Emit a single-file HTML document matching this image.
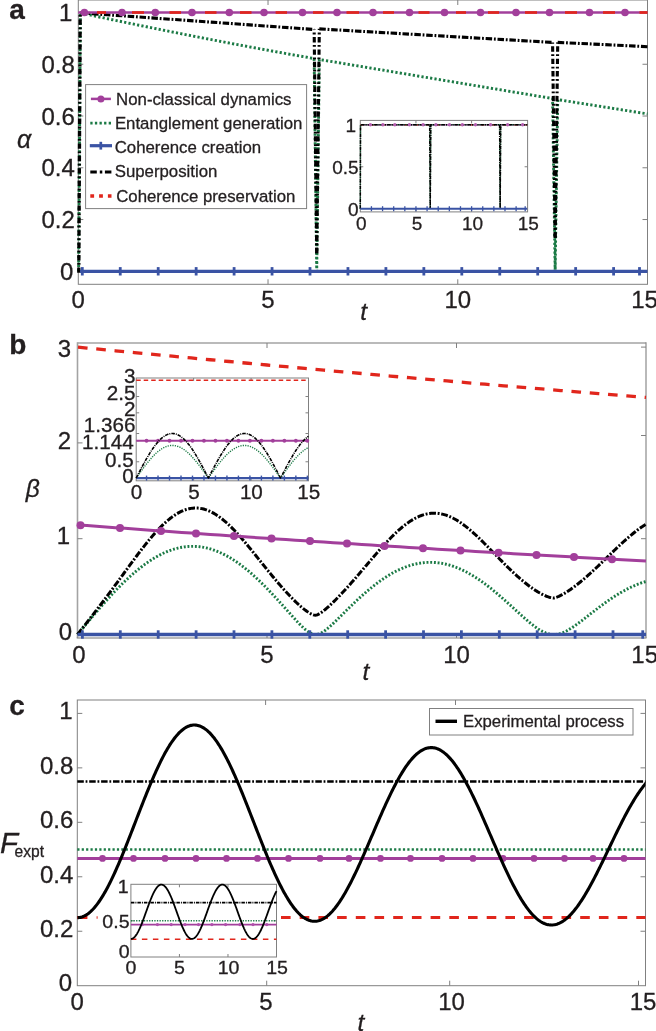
<!DOCTYPE html>
<html lang="en"><head><meta charset="utf-8"><title>Figure: alpha, beta and fidelity versus t</title>
<style>html,body{margin:0;padding:0;background:#fff}svg{display:block;will-change:transform}text{font-family:'Liberation Sans', Arial, Helvetica, sans-serif;fill:#231f20;stroke:#231f20;stroke-width:0.3px}</style></head><body>
<svg width="656" height="1031" viewBox="0 0 656 1031">
<rect x="0" y="0" width="656" height="1031" fill="#ffffff"/>
<g id="panel-a">
<rect x="78.3" y="0" width="569.2" height="284.3" fill="none" stroke="#808080" stroke-width="1"/>
<line x1="268.03" y1="284.3" x2="268.03" y2="279.3" stroke="#808080" stroke-width="1"/>
<line x1="268.03" y1="0" x2="268.03" y2="5" stroke="#808080" stroke-width="1"/>
<line x1="457.77" y1="284.3" x2="457.77" y2="279.3" stroke="#808080" stroke-width="1"/>
<line x1="457.77" y1="0" x2="457.77" y2="5" stroke="#808080" stroke-width="1"/>
<line x1="78.3" y1="219.54" x2="83.3" y2="219.54" stroke="#808080" stroke-width="1"/>
<line x1="647.5" y1="219.54" x2="642.5" y2="219.54" stroke="#808080" stroke-width="1"/>
<line x1="78.3" y1="167.78" x2="83.3" y2="167.78" stroke="#808080" stroke-width="1"/>
<line x1="647.5" y1="167.78" x2="642.5" y2="167.78" stroke="#808080" stroke-width="1"/>
<line x1="78.3" y1="116.02" x2="83.3" y2="116.02" stroke="#808080" stroke-width="1"/>
<line x1="647.5" y1="116.02" x2="642.5" y2="116.02" stroke="#808080" stroke-width="1"/>
<line x1="78.3" y1="64.26" x2="83.3" y2="64.26" stroke="#808080" stroke-width="1"/>
<line x1="647.5" y1="64.26" x2="642.5" y2="64.26" stroke="#808080" stroke-width="1"/>
<polyline points="78.6,271.3 80.4,12.5 89.68,14.93 101.07,17.35 112.45,19.74 123.84,22.11 135.22,24.46 146.6,26.79 157.99,29.09 169.37,31.38 180.76,33.64 192.14,35.89 203.52,38.11 214.91,40.31 226.29,42.48 237.68,44.64 249.06,46.77 260.44,48.89 271.83,50.98 283.21,53.05 294.6,55.1 314.15,58.57 316.73,271.3 319.31,59.48 552.57,98.55 555.15,271.3 557.73,99.62 647.5,113.89" fill="none" stroke="#1b7a45" stroke-width="2.9" stroke-dasharray="2.2 2.2" stroke-linecap="butt" stroke-linejoin="miter"/>
<polyline points="80.2,12.8 314.15,29.47" fill="none" stroke="#000000" stroke-width="3.1" stroke-dasharray="6.5 1.8 1.8 1.8" stroke-linecap="butt" stroke-linejoin="miter"/>
<polyline points="319.31,28.89 552.57,42.41" fill="none" stroke="#000000" stroke-width="3.1" stroke-dasharray="6.5 1.8 1.8 1.8" stroke-linecap="butt" stroke-linejoin="miter"/>
<polyline points="557.73,42.36 647.5,46.71" fill="none" stroke="#000000" stroke-width="3.1" stroke-dasharray="6.5 1.8 1.8 1.8" stroke-linecap="butt" stroke-linejoin="miter"/>
<polyline points="78.8,272.8 80.2,12.8" fill="none" stroke="#000000" stroke-width="3.3" stroke-dasharray="5.4 2.6 1.8 2.6" stroke-linecap="butt" stroke-linejoin="miter"/>
<polyline points="316.73,253.18 314.15,29.47" fill="none" stroke="#000000" stroke-width="3.1" stroke-dasharray="5.4 2.6 1.8 2.6" stroke-linecap="butt" stroke-linejoin="miter"/>
<polyline points="316.73,253.18 319.31,28.89" fill="none" stroke="#000000" stroke-width="3.1" stroke-dasharray="5.4 2.6 1.8 2.6" stroke-linecap="butt" stroke-linejoin="miter"/>
<polyline points="555.15,237.66 552.57,42.41" fill="none" stroke="#000000" stroke-width="3.1" stroke-dasharray="5.4 2.6 1.8 2.6" stroke-linecap="butt" stroke-linejoin="miter"/>
<polyline points="555.15,237.66 557.73,42.36" fill="none" stroke="#000000" stroke-width="3.1" stroke-dasharray="5.4 2.6 1.8 2.6" stroke-linecap="butt" stroke-linejoin="miter"/>
<line x1="78.3" y1="12.5" x2="647.5" y2="12.5" stroke="#a23f9b" stroke-width="2.7"/>
<line x1="97" y1="12.5" x2="106" y2="12.5" stroke="#e1261c" stroke-width="2.7"/>
<line x1="132" y1="12.5" x2="144" y2="12.5" stroke="#e1261c" stroke-width="2.7"/>
<line x1="169.5" y1="12.5" x2="181" y2="12.5" stroke="#e1261c" stroke-width="2.7"/>
<line x1="205" y1="12.5" x2="216.5" y2="12.5" stroke="#e1261c" stroke-width="2.7"/>
<line x1="240" y1="12.5" x2="251.5" y2="12.5" stroke="#e1261c" stroke-width="2.7"/>
<line x1="275.6" y1="12.5" x2="287" y2="12.5" stroke="#e1261c" stroke-width="2.7"/>
<line x1="313" y1="12.5" x2="323.5" y2="12.5" stroke="#e1261c" stroke-width="2.7"/>
<line x1="346.5" y1="12.5" x2="359" y2="12.5" stroke="#e1261c" stroke-width="2.7"/>
<line x1="383" y1="12.5" x2="394" y2="12.5" stroke="#e1261c" stroke-width="2.7"/>
<line x1="418.5" y1="12.5" x2="429.5" y2="12.5" stroke="#e1261c" stroke-width="2.7"/>
<line x1="456" y1="12.5" x2="466" y2="12.5" stroke="#e1261c" stroke-width="2.7"/>
<line x1="488" y1="12.5" x2="499" y2="12.5" stroke="#e1261c" stroke-width="2.7"/>
<line x1="525" y1="12.5" x2="537" y2="12.5" stroke="#e1261c" stroke-width="2.7"/>
<line x1="565" y1="12.5" x2="577" y2="12.5" stroke="#e1261c" stroke-width="2.7"/>
<line x1="603" y1="12.5" x2="615" y2="12.5" stroke="#e1261c" stroke-width="2.7"/>
<line x1="639.5" y1="12.5" x2="647.5" y2="12.5" stroke="#e1261c" stroke-width="2.7"/>
<circle cx="84.4" cy="12.5" r="3.8" fill="#a23f9b"/>
<circle cx="122" cy="12.5" r="3.8" fill="#a23f9b"/>
<circle cx="155.3" cy="12.5" r="3.8" fill="#a23f9b"/>
<circle cx="192" cy="12.5" r="3.8" fill="#a23f9b"/>
<circle cx="229.3" cy="12.5" r="3.8" fill="#a23f9b"/>
<circle cx="264" cy="12.5" r="3.8" fill="#a23f9b"/>
<circle cx="302.5" cy="12.5" r="3.8" fill="#a23f9b"/>
<circle cx="337" cy="12.5" r="3.8" fill="#a23f9b"/>
<circle cx="373" cy="12.5" r="3.8" fill="#a23f9b"/>
<circle cx="409.5" cy="12.5" r="3.8" fill="#a23f9b"/>
<circle cx="444.5" cy="12.5" r="3.8" fill="#a23f9b"/>
<circle cx="480.5" cy="12.5" r="3.8" fill="#a23f9b"/>
<circle cx="516" cy="12.5" r="3.8" fill="#a23f9b"/>
<circle cx="549.5" cy="12.5" r="3.8" fill="#a23f9b"/>
<circle cx="589.5" cy="12.5" r="3.8" fill="#a23f9b"/>
<circle cx="625" cy="12.5" r="3.8" fill="#a23f9b"/>
<line x1="80" y1="271.3" x2="647.5" y2="271.3" stroke="#3a53a4" stroke-width="3.3"/>
<line x1="82.3" y1="267.1" x2="82.3" y2="275.5" stroke="#3a53a4" stroke-width="2.8"/>
<line x1="120.25" y1="267.1" x2="120.25" y2="275.5" stroke="#3a53a4" stroke-width="2.8"/>
<line x1="158.2" y1="267.1" x2="158.2" y2="275.5" stroke="#3a53a4" stroke-width="2.8"/>
<line x1="196.15" y1="267.1" x2="196.15" y2="275.5" stroke="#3a53a4" stroke-width="2.8"/>
<line x1="234.1" y1="267.1" x2="234.1" y2="275.5" stroke="#3a53a4" stroke-width="2.8"/>
<line x1="272.05" y1="267.1" x2="272.05" y2="275.5" stroke="#3a53a4" stroke-width="2.8"/>
<line x1="310" y1="267.1" x2="310" y2="275.5" stroke="#3a53a4" stroke-width="2.8"/>
<line x1="347.95" y1="267.1" x2="347.95" y2="275.5" stroke="#3a53a4" stroke-width="2.8"/>
<line x1="385.9" y1="267.1" x2="385.9" y2="275.5" stroke="#3a53a4" stroke-width="2.8"/>
<line x1="423.85" y1="267.1" x2="423.85" y2="275.5" stroke="#3a53a4" stroke-width="2.8"/>
<line x1="461.8" y1="267.1" x2="461.8" y2="275.5" stroke="#3a53a4" stroke-width="2.8"/>
<line x1="499.75" y1="267.1" x2="499.75" y2="275.5" stroke="#3a53a4" stroke-width="2.8"/>
<line x1="537.7" y1="267.1" x2="537.7" y2="275.5" stroke="#3a53a4" stroke-width="2.8"/>
<line x1="575.65" y1="267.1" x2="575.65" y2="275.5" stroke="#3a53a4" stroke-width="2.8"/>
<line x1="613.6" y1="267.1" x2="613.6" y2="275.5" stroke="#3a53a4" stroke-width="2.8"/>
<line x1="639.5" y1="267.1" x2="639.5" y2="275.5" stroke="#3a53a4" stroke-width="2.8"/>
<text x="72.4" y="21.1" font-size="24" text-anchor="end">1</text>
<text x="74.8" y="72.86" font-size="24" text-anchor="end">0.8</text>
<text x="74.8" y="124.62" font-size="24" text-anchor="end">0.6</text>
<text x="74.8" y="176.38" font-size="24" text-anchor="end">0.4</text>
<text x="74.8" y="228.14" font-size="24" text-anchor="end">0.2</text>
<text x="73.4" y="279.9" font-size="24" text-anchor="end">0</text>
<text x="78.3" y="308.2" font-size="24" text-anchor="middle">0</text>
<text x="268.03" y="308.2" font-size="24" text-anchor="middle">5</text>
<text x="457.77" y="308.2" font-size="24" text-anchor="middle">10</text>
<text x="644.5" y="308.2" font-size="24" text-anchor="middle">15</text>
<text x="363.7" y="320.2" font-size="24.5" text-anchor="middle" font-style="italic">t</text>
<text x="24.2" y="148" font-size="25" text-anchor="middle" font-style="italic">α</text>
<text x="9.3" y="19.2" font-size="28" text-anchor="start" font-weight="bold">a</text>
<rect x="85.6" y="84.6" width="221" height="124" fill="#ffffff" stroke="#808080" stroke-width="1"/>
<line x1="90.9" y1="98.9" x2="110.9" y2="98.9" stroke="#a23f9b" stroke-width="2.5"/>
<circle cx="100.9" cy="99.1" r="3.5" fill="#a23f9b"/>
<line x1="90.3" y1="123.2" x2="111.5" y2="123.2" stroke="#1b7a45" stroke-width="2.7" stroke-dasharray="2.3 2.3"/>
<line x1="89.8" y1="145.7" x2="112" y2="145.7" stroke="#3a53a4" stroke-width="3.2"/>
<line x1="100.8" y1="141.8" x2="100.8" y2="149.6" stroke="#3a53a4" stroke-width="2.7"/>
<line x1="90.3" y1="172" x2="111.5" y2="172" stroke="#000000" stroke-width="3.2" stroke-dasharray="6.5 3 2.5 2.6"/>
<line x1="90.3" y1="196" x2="111.5" y2="196" stroke="#e1261c" stroke-width="3.6" stroke-dasharray="3.8 5"/>
<text x="116.1" y="104.9" font-size="16.8" text-anchor="start">Non-classical dynamics</text>
<text x="114.9" y="129.3" font-size="16.8" text-anchor="start">Entanglement generation</text>
<text x="114.7" y="153.1" font-size="16.8" text-anchor="start">Coherence creation</text>
<text x="114.7" y="177.4" font-size="16.8" text-anchor="start">Superposition</text>
<text x="116.2" y="202" font-size="16.8" text-anchor="start">Coherence preservation</text>
<rect x="360.3" y="120.4" width="167.3" height="91.5" fill="#ffffff" stroke="#808080" stroke-width="1"/>
<line x1="415.95" y1="211.9" x2="415.95" y2="208.9" stroke="#808080" stroke-width="1"/>
<line x1="415.95" y1="120.4" x2="415.95" y2="123.4" stroke="#808080" stroke-width="1"/>
<line x1="471.6" y1="211.9" x2="471.6" y2="208.9" stroke="#808080" stroke-width="1"/>
<line x1="471.6" y1="120.4" x2="471.6" y2="123.4" stroke="#808080" stroke-width="1"/>
<line x1="360.3" y1="166.75" x2="363.3" y2="166.75" stroke="#808080" stroke-width="1"/>
<line x1="527.6" y1="166.75" x2="524.6" y2="166.75" stroke="#808080" stroke-width="1"/>
<line x1="360.3" y1="124.8" x2="527.25" y2="124.8" stroke="#a23f9b" stroke-width="1.2"/>
<line x1="360.3" y1="124.8" x2="527.25" y2="124.8" stroke="#e1261c" stroke-width="1.2" stroke-dasharray="3 8"/>
<polyline points="360.3,208.7 360.52,124.8 429.68,124.8 430.23,208.7 430.79,124.8 499.61,124.8 500.16,208.7 500.72,124.8 527.25,124.8" fill="none" stroke="#1b7a45" stroke-width="1.4" stroke-dasharray="1.2 1.2" stroke-linecap="butt" stroke-linejoin="miter"/>
<polyline points="360.3,208.7 360.52,124.8 429.68,124.8 430.23,208.7 430.79,124.8 499.61,124.8 500.16,208.7 500.72,124.8 527.25,124.8" fill="none" stroke="#000000" stroke-width="1.5" stroke-dasharray="3.5 1 1 1" stroke-linecap="butt" stroke-linejoin="miter"/>
<circle cx="370.4" cy="124.8" r="1.7" fill="#b45fb0"/>
<circle cx="382.9" cy="124.8" r="1.7" fill="#b45fb0"/>
<circle cx="394.8" cy="124.8" r="1.7" fill="#b45fb0"/>
<circle cx="409.4" cy="124.8" r="1.7" fill="#b45fb0"/>
<circle cx="423.1" cy="124.8" r="1.7" fill="#b45fb0"/>
<circle cx="435.9" cy="124.8" r="1.7" fill="#b45fb0"/>
<circle cx="449.5" cy="124.8" r="1.7" fill="#b45fb0"/>
<circle cx="462.3" cy="124.8" r="1.7" fill="#b45fb0"/>
<circle cx="475.5" cy="124.8" r="1.7" fill="#b45fb0"/>
<circle cx="490.6" cy="124.8" r="1.7" fill="#b45fb0"/>
<circle cx="507.6" cy="124.8" r="1.7" fill="#b45fb0"/>
<circle cx="522.6" cy="124.8" r="1.7" fill="#b45fb0"/>
<line x1="360.3" y1="208.7" x2="527.25" y2="208.7" stroke="#3a53a4" stroke-width="2"/>
<line x1="371.43" y1="206.2" x2="371.43" y2="211.2" stroke="#3a53a4" stroke-width="1.3"/>
<line x1="382.56" y1="206.2" x2="382.56" y2="211.2" stroke="#3a53a4" stroke-width="1.3"/>
<line x1="393.69" y1="206.2" x2="393.69" y2="211.2" stroke="#3a53a4" stroke-width="1.3"/>
<line x1="404.82" y1="206.2" x2="404.82" y2="211.2" stroke="#3a53a4" stroke-width="1.3"/>
<line x1="415.95" y1="206.2" x2="415.95" y2="211.2" stroke="#3a53a4" stroke-width="1.3"/>
<line x1="427.08" y1="206.2" x2="427.08" y2="211.2" stroke="#3a53a4" stroke-width="1.3"/>
<line x1="438.21" y1="206.2" x2="438.21" y2="211.2" stroke="#3a53a4" stroke-width="1.3"/>
<line x1="449.34" y1="206.2" x2="449.34" y2="211.2" stroke="#3a53a4" stroke-width="1.3"/>
<line x1="460.47" y1="206.2" x2="460.47" y2="211.2" stroke="#3a53a4" stroke-width="1.3"/>
<line x1="471.6" y1="206.2" x2="471.6" y2="211.2" stroke="#3a53a4" stroke-width="1.3"/>
<line x1="482.73" y1="206.2" x2="482.73" y2="211.2" stroke="#3a53a4" stroke-width="1.3"/>
<line x1="493.86" y1="206.2" x2="493.86" y2="211.2" stroke="#3a53a4" stroke-width="1.3"/>
<line x1="504.99" y1="206.2" x2="504.99" y2="211.2" stroke="#3a53a4" stroke-width="1.3"/>
<line x1="516.12" y1="206.2" x2="516.12" y2="211.2" stroke="#3a53a4" stroke-width="1.3"/>
<line x1="525.2" y1="206.2" x2="525.2" y2="211.2" stroke="#3a53a4" stroke-width="1.3"/>
<text x="356.1" y="131.7" font-size="19" text-anchor="end">1</text>
<text x="358.6" y="173.65" font-size="19" text-anchor="end">0.5</text>
<text x="358.6" y="215.6" font-size="19" text-anchor="end">0</text>
<text x="361.3" y="229.5" font-size="19" text-anchor="middle">0</text>
<text x="416.95" y="229.5" font-size="19" text-anchor="middle">5</text>
<text x="472.6" y="229.5" font-size="19" text-anchor="middle">10</text>
<text x="528.25" y="229.5" font-size="19" text-anchor="middle">15</text>
</g>
<g id="panel-b">
<line x1="77.5" y1="343" x2="646" y2="343" stroke="#a3a3a3" stroke-width="1.6"/>
<line x1="77.5" y1="342.2" x2="77.5" y2="638" stroke="#a3a3a3" stroke-width="1.6"/>
<line x1="76.7" y1="638" x2="646.5" y2="638" stroke="#777777" stroke-width="1.2"/>
<line x1="646" y1="342.2" x2="646" y2="638" stroke="#8a8a8a" stroke-width="1.2"/>
<line x1="267" y1="638" x2="267" y2="633" stroke="#808080" stroke-width="1"/>
<line x1="267" y1="343" x2="267" y2="348" stroke="#808080" stroke-width="1"/>
<line x1="456.5" y1="638" x2="456.5" y2="633" stroke="#808080" stroke-width="1"/>
<line x1="456.5" y1="343" x2="456.5" y2="348" stroke="#808080" stroke-width="1"/>
<line x1="77.5" y1="538.7" x2="82.5" y2="538.7" stroke="#808080" stroke-width="1"/>
<line x1="77.5" y1="442.9" x2="82.5" y2="442.9" stroke="#808080" stroke-width="1"/>
<line x1="646" y1="538.7" x2="641" y2="538.7" stroke="#808080" stroke-width="1"/>
<line x1="646" y1="347.1" x2="641" y2="347.1" stroke="#808080" stroke-width="1"/>
<line x1="646" y1="435.5" x2="641" y2="435.5" stroke="#808080" stroke-width="1"/>
<polyline points="77.5,634.5 78.45,633.36 79.39,632.21 80.34,631.07 81.29,629.93 82.24,628.78 83.19,627.64 84.13,626.5 85.08,625.37 86.03,624.23 86.97,623.1 87.92,621.96 88.87,620.83 89.82,619.71 90.77,618.58 91.71,617.46 92.66,616.34 93.61,615.22 94.56,614.11 95.5,613 96.45,611.89 97.4,610.79 98.34,609.69 99.29,608.6 100.24,607.51 101.19,606.43 102.14,605.35 103.08,604.27 104.03,603.2 104.98,602.14 105.92,601.08 106.87,600.03 107.82,598.98 108.77,597.94 109.72,596.9 110.66,595.87 111.61,594.85 112.56,593.84 113.5,592.83 114.45,591.82 115.4,590.83 116.35,589.84 117.3,588.86 118.24,587.89 119.19,586.93 120.14,585.97 121.08,585.02 122.03,584.08 122.98,583.15 123.93,582.23 124.88,581.31 125.82,580.41 126.77,579.51 127.72,578.63 128.66,577.75 129.61,576.88 130.56,576.02 131.51,575.17 132.45,574.34 133.4,573.51 134.35,572.69 135.3,571.88 136.25,571.08 137.19,570.3 138.14,569.52 139.09,568.75 140.03,568 140.98,567.26 141.93,566.53 142.88,565.8 143.82,565.1 144.77,564.4 145.72,563.71 146.67,563.04 147.62,562.38 148.56,561.73 149.51,561.09 150.46,560.46 151.41,559.85 152.35,559.25 153.3,558.66 154.25,558.09 155.19,557.52 156.14,556.97 157.09,556.44 158.04,555.91 158.99,555.4 159.93,554.91 160.88,554.42 161.83,553.95 162.77,553.49 163.72,553.05 164.67,552.62 165.62,552.2 166.56,551.8 167.51,551.41 168.46,551.04 169.41,550.68 170.36,550.33 171.3,550 172.25,549.68 173.2,549.37 174.14,549.08 175.09,548.81 176.04,548.55 176.99,548.3 177.94,548.07 178.88,547.85 179.83,547.65 180.78,547.46 181.72,547.28 182.67,547.12 183.62,546.98 184.57,546.85 185.51,546.73 186.46,546.63 187.41,546.54 188.36,546.47 189.31,546.41 190.25,546.37 191.2,546.34 192.15,546.33 193.09,546.33 194.04,546.35 194.99,546.38 195.94,546.43 196.88,546.49 197.83,546.56 198.78,546.66 199.73,546.76 200.68,546.88 201.62,547.02 202.57,547.17 203.52,547.33 204.47,547.51 205.41,547.7 206.36,547.91 207.31,548.14 208.25,548.37 209.2,548.62 210.15,548.89 211.1,549.17 212.04,549.47 212.99,549.78 213.94,550.1 214.89,550.44 215.83,550.79 216.78,551.16 217.73,551.54 218.68,551.93 219.62,552.34 220.57,552.76 221.52,553.2 222.47,553.65 223.41,554.12 224.36,554.59 225.31,555.08 226.26,555.59 227.21,556.11 228.15,556.64 229.1,557.18 230.05,557.74 230.99,558.31 231.94,558.89 232.89,559.49 233.84,560.1 234.78,560.72 235.73,561.35 236.68,562 237.63,562.66 238.57,563.33 239.52,564.01 240.47,564.7 241.42,565.41 242.36,566.13 243.31,566.86 244.26,567.6 245.21,568.35 246.16,569.12 247.1,569.89 248.05,570.68 249,571.47 249.94,572.28 250.89,573.1 251.84,573.93 252.79,574.77 253.74,575.62 254.68,576.47 255.63,577.34 256.58,578.22 257.52,579.11 258.47,580 259.42,580.91 260.37,581.82 261.31,582.75 262.26,583.68 263.21,584.62 264.16,585.57 265.11,586.52 266.05,587.49 267,588.46 267.95,589.44 268.89,590.42 269.84,591.41 270.79,592.41 271.74,593.42 272.69,594.43 273.63,595.45 274.58,596.47 275.53,597.5 276.48,598.53 277.42,599.57 278.37,600.61 279.32,601.66 280.26,602.71 281.21,603.76 282.16,604.82 283.11,605.88 284.06,606.94 285,608 285.95,609.07 286.9,610.13 287.85,611.19 288.79,612.26 289.74,613.32 290.69,614.38 291.63,615.44 292.58,616.49 293.53,617.54 294.48,618.58 295.42,619.61 296.37,620.64 297.32,621.65 298.27,622.66 299.21,623.65 300.16,624.62 301.11,625.57 302.06,626.5 303,627.41 303.95,628.29 304.9,629.13 305.85,629.93 306.79,630.69 307.74,631.4 308.69,632.06 309.64,632.65 310.59,633.17 311.53,633.61 312.48,633.97 313.43,634.24 314.38,634.41 315.32,634.49 316.27,634.48 317.22,634.37 318.16,634.16 319.11,633.87 320.06,633.5 321.01,633.06 321.95,632.55 322.9,631.98 323.85,631.36 324.8,630.69 325.75,629.98 326.69,629.23 327.64,628.46 328.59,627.65 329.53,626.83 330.48,625.98 331.43,625.12 332.38,624.24 333.32,623.35 334.27,622.45 335.22,621.54 336.17,620.62 337.11,619.69 338.06,618.76 339.01,617.83 339.96,616.89 340.9,615.96 341.85,615.02 342.8,614.08 343.75,613.14 344.69,612.2 345.64,611.26 346.59,610.33 347.54,609.39 348.49,608.46 349.43,607.53 350.38,606.61 351.33,605.69 352.27,604.78 353.22,603.86 354.17,602.96 355.12,602.06 356.06,601.16 357.01,600.27 357.96,599.39 358.91,598.51 359.86,597.65 360.8,596.78 361.75,595.93 362.7,595.08 363.64,594.24 364.59,593.4 365.54,592.58 366.49,591.76 367.44,590.95 368.38,590.15 369.33,589.36 370.28,588.58 371.22,587.8 372.17,587.04 373.12,586.28 374.07,585.53 375.01,584.8 375.96,584.07 376.91,583.36 377.86,582.65 378.81,581.95 379.75,581.27 380.7,580.59 381.65,579.93 382.6,579.27 383.54,578.63 384.49,578 385.44,577.38 386.38,576.77 387.33,576.17 388.28,575.58 389.23,575.01 390.18,574.44 391.12,573.89 392.07,573.35 393.02,572.82 393.96,572.31 394.91,571.8 395.86,571.31 396.81,570.83 397.75,570.37 398.7,569.91 399.65,569.47 400.6,569.04 401.55,568.63 402.49,568.22 403.44,567.83 404.39,567.45 405.33,567.09 406.28,566.74 407.23,566.4 408.18,566.08 409.12,565.76 410.07,565.46 411.02,565.18 411.97,564.91 412.91,564.65 413.86,564.4 414.81,564.17 415.76,563.96 416.7,563.75 417.65,563.56 418.6,563.38 419.55,563.22 420.5,563.07 421.44,562.93 422.39,562.81 423.34,562.7 424.29,562.61 425.23,562.53 426.18,562.46 427.13,562.41 428.07,562.37 429.02,562.34 429.97,562.33 430.92,562.33 431.86,562.35 432.81,562.38 433.76,562.42 434.71,562.48 435.65,562.55 436.6,562.63 437.55,562.73 438.5,562.84 439.44,562.97 440.39,563.11 441.34,563.26 442.29,563.43 443.24,563.61 444.18,563.8 445.13,564.01 446.08,564.23 447.02,564.46 447.97,564.71 448.92,564.97 449.87,565.24 450.81,565.52 451.76,565.82 452.71,566.14 453.66,566.46 454.6,566.8 455.55,567.15 456.5,567.51 457.45,567.89 458.4,568.28 459.34,568.68 460.29,569.09 461.24,569.52 462.19,569.96 463.13,570.41 464.08,570.87 465.03,571.34 465.97,571.83 466.92,572.33 467.87,572.84 468.82,573.36 469.76,573.89 470.71,574.44 471.66,574.99 472.61,575.56 473.55,576.13 474.5,576.72 475.45,577.32 476.4,577.93 477.35,578.55 478.29,579.18 479.24,579.82 480.19,580.47 481.13,581.13 482.08,581.8 483.03,582.47 483.98,583.16 484.93,583.86 485.87,584.57 486.82,585.28 487.77,586.01 488.71,586.74 489.66,587.48 490.61,588.23 491.56,588.98 492.5,589.75 493.45,590.52 494.4,591.3 495.35,592.08 496.3,592.88 497.24,593.67 498.19,594.48 499.14,595.29 500.08,596.11 501.03,596.93 501.98,597.76 502.93,598.59 503.88,599.43 504.82,600.27 505.77,601.12 506.72,601.97 507.66,602.82 508.61,603.68 509.56,604.54 510.51,605.4 511.45,606.27 512.4,607.13 513.35,608 514.3,608.86 515.25,609.73 516.19,610.6 517.14,611.46 518.09,612.33 519.04,613.19 519.98,614.05 520.93,614.91 521.88,615.76 522.83,616.61 523.77,617.45 524.72,618.29 525.67,619.12 526.62,619.94 527.56,620.75 528.51,621.56 529.46,622.35 530.4,623.13 531.35,623.9 532.3,624.65 533.25,625.39 534.19,626.11 535.14,626.81 536.09,627.49 537.04,628.15 537.99,628.79 538.93,629.4 539.88,629.99 540.83,630.55 541.77,631.07 542.72,631.57 543.67,632.03 544.62,632.46 545.56,632.85 546.51,633.2 547.46,633.52 548.41,633.79 549.36,634.02 550.3,634.2 551.25,634.34 552.2,634.44 553.14,634.49 554.09,634.5 555.04,634.46 555.99,634.38 556.93,634.25 557.88,634.09 558.83,633.88 559.78,633.63 560.72,633.35 561.67,633.02 562.62,632.67 563.57,632.28 564.51,631.85 565.46,631.4 566.41,630.93 567.36,630.42 568.3,629.89 569.25,629.34 570.2,628.77 571.15,628.18 572.1,627.57 573.04,626.95 573.99,626.31 574.94,625.66 575.88,624.99 576.83,624.32 577.78,623.63 578.73,622.94 579.67,622.23 580.62,621.53 581.57,620.81 582.52,620.09 583.46,619.36 584.41,618.64 585.36,617.9 586.31,617.17 587.25,616.43 588.2,615.7 589.15,614.96 590.1,614.22 591.04,613.48 591.99,612.75 592.94,612.01 593.89,611.28 594.84,610.55 595.78,609.82 596.73,609.1 597.68,608.38 598.62,607.66 599.57,606.94 600.52,606.23 601.47,605.53 602.41,604.83 603.36,604.14 604.31,603.45 605.26,602.77 606.2,602.09 607.15,601.42 608.1,600.75 609.05,600.1 610,599.45 610.94,598.8 611.89,598.17 612.84,597.54 613.78,596.92 614.73,596.31 615.68,595.7 616.63,595.11 617.57,594.52 618.52,593.94 619.47,593.37 620.42,592.81 621.37,592.26 622.31,591.71 623.26,591.18 624.21,590.66 625.15,590.14 626.1,589.64 627.05,589.14 628,588.66 628.95,588.18 629.89,587.72 630.84,587.26 631.79,586.82 632.74,586.39 633.68,585.96 634.63,585.55 635.58,585.15 636.52,584.76 637.47,584.38 638.42,584.01 639.37,583.65 640.31,583.31 641.26,582.97 642.21,582.65 643.16,582.33 644.1,582.03 645.05,581.74 646,581.47" fill="none" stroke="#1b7a45" stroke-width="2.9" stroke-dasharray="1.9 1.8" stroke-linecap="butt" stroke-linejoin="miter"/>
<polyline points="77.5,634.5 78.45,633.29 79.39,632.08 80.34,630.87 81.29,629.66 82.24,628.45 83.19,627.24 84.13,626.03 85.08,624.82 86.03,623.61 86.97,622.4 87.92,621.18 88.87,619.97 89.82,618.75 90.77,617.53 91.71,616.31 92.66,615.09 93.61,613.87 94.56,612.64 95.5,611.41 96.45,610.18 97.4,608.94 98.34,607.71 99.29,606.47 100.24,605.22 101.19,603.98 102.14,602.73 103.08,601.48 104.03,600.22 104.98,598.96 105.92,597.7 106.87,596.44 107.82,595.17 108.77,593.9 109.72,592.62 110.66,591.35 111.61,590.07 112.56,588.79 113.5,587.5 114.45,586.21 115.4,584.92 116.35,583.63 117.3,582.34 118.24,581.05 119.19,579.75 120.14,578.45 121.08,577.15 122.03,575.85 122.98,574.55 123.93,573.25 124.88,571.95 125.82,570.65 126.77,569.36 127.72,568.06 128.66,566.76 129.61,565.47 130.56,564.18 131.51,562.89 132.45,561.6 133.4,560.32 134.35,559.04 135.3,557.76 136.25,556.49 137.19,555.23 138.14,553.97 139.09,552.72 140.03,551.47 140.98,550.23 141.93,549 142.88,547.78 143.82,546.56 144.77,545.36 145.72,544.16 146.67,542.98 147.62,541.8 148.56,540.64 149.51,539.49 150.46,538.35 151.41,537.23 152.35,536.11 153.3,535.02 154.25,533.93 155.19,532.87 156.14,531.81 157.09,530.78 158.04,529.76 158.99,528.76 159.93,527.77 160.88,526.81 161.83,525.86 162.77,524.94 163.72,524.03 164.67,523.14 165.62,522.28 166.56,521.44 167.51,520.61 168.46,519.82 169.41,519.04 170.36,518.29 171.3,517.56 172.25,516.85 173.2,516.17 174.14,515.52 175.09,514.89 176.04,514.28 176.99,513.71 177.94,513.15 178.88,512.63 179.83,512.13 180.78,511.66 181.72,511.22 182.67,510.81 183.62,510.42 184.57,510.06 185.51,509.73 186.46,509.43 187.41,509.16 188.36,508.92 189.31,508.7 190.25,508.52 191.2,508.36 192.15,508.24 193.09,508.14 194.04,508.08 194.99,508.04 195.94,508.04 196.88,508.06 197.83,508.11 198.78,508.19 199.73,508.31 200.68,508.45 201.62,508.62 202.57,508.82 203.52,509.05 204.47,509.3 205.41,509.59 206.36,509.9 207.31,510.24 208.25,510.61 209.2,511.01 210.15,511.44 211.1,511.89 212.04,512.37 212.99,512.87 213.94,513.4 214.89,513.96 215.83,514.54 216.78,515.15 217.73,515.78 218.68,516.44 219.62,517.12 220.57,517.82 221.52,518.55 222.47,519.29 223.41,520.06 224.36,520.85 225.31,521.66 226.26,522.5 227.21,523.35 228.15,524.22 229.1,525.11 230.05,526.02 230.99,526.94 231.94,527.88 232.89,528.84 233.84,529.81 234.78,530.8 235.73,531.81 236.68,532.83 237.63,533.86 238.57,534.9 239.52,535.96 240.47,537.03 241.42,538.11 242.36,539.2 243.31,540.3 244.26,541.41 245.21,542.53 246.16,543.66 247.1,544.8 248.05,545.94 249,547.09 249.94,548.24 250.89,549.4 251.84,550.57 252.79,551.74 253.74,552.91 254.68,554.09 255.63,555.27 256.58,556.45 257.52,557.63 258.47,558.82 259.42,560 260.37,561.19 261.31,562.38 262.26,563.56 263.21,564.74 264.16,565.93 265.11,567.11 266.05,568.28 267,569.46 267.95,570.63 268.89,571.8 269.84,572.96 270.79,574.12 271.74,575.27 272.69,576.42 273.63,577.57 274.58,578.7 275.53,579.83 276.48,580.96 277.42,582.08 278.37,583.19 279.32,584.29 280.26,585.38 281.21,586.47 282.16,587.55 283.11,588.62 284.06,589.68 285,590.73 285.95,591.77 286.9,592.8 287.85,593.82 288.79,594.83 289.74,595.83 290.69,596.82 291.63,597.79 292.58,598.76 293.53,599.71 294.48,600.64 295.42,601.57 296.37,602.47 297.32,603.37 298.27,604.24 299.21,605.1 300.16,605.95 301.11,606.77 302.06,607.57 303,608.35 303.95,609.11 304.9,609.84 305.85,610.55 306.79,611.23 307.74,611.87 308.69,612.49 309.64,613.06 310.59,613.59 311.53,614.06 312.48,614.49 313.43,614.84 314.38,615.12 315.32,615.27 316.27,615.14 317.22,614.79 318.16,614.35 319.11,613.84 320.06,613.26 321.01,612.64 321.95,611.98 322.9,611.29 323.85,610.56 324.8,609.8 325.75,609.02 326.69,608.21 327.64,607.39 328.59,606.54 329.53,605.68 330.48,604.8 331.43,603.91 332.38,603 333.32,602.08 334.27,601.15 335.22,600.21 336.17,599.25 337.11,598.29 338.06,597.31 339.01,596.33 339.96,595.34 340.9,594.34 341.85,593.33 342.8,592.31 343.75,591.29 344.69,590.25 345.64,589.22 346.59,588.17 347.54,587.12 348.49,586.06 349.43,585 350.38,583.93 351.33,582.86 352.27,581.78 353.22,580.7 354.17,579.61 355.12,578.52 356.06,577.42 357.01,576.32 357.96,575.22 358.91,574.11 359.86,573.01 360.8,571.9 361.75,570.78 362.7,569.67 363.64,568.55 364.59,567.44 365.54,566.32 366.49,565.2 367.44,564.09 368.38,562.97 369.33,561.86 370.28,560.74 371.22,559.63 372.17,558.52 373.12,557.41 374.07,556.31 375.01,555.21 375.96,554.11 376.91,553.02 377.86,551.93 378.81,550.85 379.75,549.77 380.7,548.7 381.65,547.64 382.6,546.58 383.54,545.53 384.49,544.49 385.44,543.46 386.38,542.44 387.33,541.42 388.28,540.42 389.23,539.43 390.18,538.45 391.12,537.48 392.07,536.52 393.02,535.58 393.96,534.65 394.91,533.73 395.86,532.83 396.81,531.94 397.75,531.07 398.7,530.22 399.65,529.38 400.6,528.55 401.55,527.74 402.49,526.96 403.44,526.19 404.39,525.43 405.33,524.7 406.28,523.99 407.23,523.29 408.18,522.62 409.12,521.96 410.07,521.33 411.02,520.72 411.97,520.13 412.91,519.56 413.86,519.02 414.81,518.5 415.76,518 416.7,517.52 417.65,517.07 418.6,516.64 419.55,516.23 420.5,515.85 421.44,515.5 422.39,515.17 423.34,514.86 424.29,514.58 425.23,514.33 426.18,514.1 427.13,513.89 428.07,513.71 429.02,513.56 429.97,513.43 430.92,513.33 431.86,513.25 432.81,513.2 433.76,513.18 434.71,513.18 435.65,513.21 436.6,513.26 437.55,513.34 438.5,513.45 439.44,513.58 440.39,513.73 441.34,513.91 442.29,514.12 443.24,514.35 444.18,514.61 445.13,514.89 446.08,515.19 447.02,515.52 447.97,515.87 448.92,516.25 449.87,516.65 450.81,517.07 451.76,517.51 452.71,517.98 453.66,518.47 454.6,518.98 455.55,519.51 456.5,520.06 457.45,520.63 458.4,521.22 459.34,521.83 460.29,522.46 461.24,523.11 462.19,523.78 463.13,524.47 464.08,525.17 465.03,525.89 465.97,526.62 466.92,527.37 467.87,528.14 468.82,528.92 469.76,529.72 470.71,530.53 471.66,531.35 472.61,532.18 473.55,533.03 474.5,533.89 475.45,534.76 476.4,535.64 477.35,536.53 478.29,537.43 479.24,538.33 480.19,539.25 481.13,540.18 482.08,541.11 483.03,542.04 483.98,542.99 484.93,543.94 485.87,544.89 486.82,545.85 487.77,546.82 488.71,547.78 489.66,548.75 490.61,549.72 491.56,550.7 492.5,551.67 493.45,552.65 494.4,553.63 495.35,554.6 496.3,555.58 497.24,556.55 498.19,557.53 499.14,558.5 500.08,559.47 501.03,560.43 501.98,561.4 502.93,562.35 503.88,563.31 504.82,564.26 505.77,565.21 506.72,566.15 507.66,567.08 508.61,568.01 509.56,568.93 510.51,569.84 511.45,570.75 512.4,571.65 513.35,572.55 514.3,573.43 515.25,574.31 516.19,575.17 517.14,576.03 518.09,576.88 519.04,577.72 519.98,578.55 520.93,579.36 521.88,580.17 522.83,580.97 523.77,581.75 524.72,582.53 525.67,583.29 526.62,584.04 527.56,584.77 528.51,585.5 529.46,586.21 530.4,586.91 531.35,587.59 532.3,588.26 533.25,588.92 534.19,589.56 535.14,590.18 536.09,590.79 537.04,591.38 537.99,591.95 538.93,592.51 539.88,593.05 540.83,593.57 541.77,594.07 542.72,594.54 543.67,595 544.62,595.43 545.56,595.84 546.51,596.23 547.46,596.58 548.41,596.91 549.36,597.2 550.3,597.46 551.25,597.67 552.2,597.84 553.14,597.94 554.09,597.91 555.04,597.7 555.99,597.42 556.93,597.1 557.88,596.73 558.83,596.33 559.78,595.89 560.72,595.43 561.67,594.94 562.62,594.43 563.57,593.9 564.51,593.34 565.46,592.77 566.41,592.18 567.36,591.58 568.3,590.96 569.25,590.32 570.2,589.67 571.15,589 572.1,588.32 573.04,587.63 573.99,586.93 574.94,586.22 575.88,585.49 576.83,584.75 577.78,584.01 578.73,583.25 579.67,582.48 580.62,581.71 581.57,580.92 582.52,580.13 583.46,579.33 584.41,578.52 585.36,577.7 586.31,576.87 587.25,576.04 588.2,575.2 589.15,574.35 590.1,573.5 591.04,572.64 591.99,571.77 592.94,570.9 593.89,570.02 594.84,569.14 595.78,568.25 596.73,567.36 597.68,566.47 598.62,565.57 599.57,564.66 600.52,563.76 601.47,562.85 602.41,561.94 603.36,561.02 604.31,560.11 605.26,559.19 606.2,558.27 607.15,557.35 608.1,556.43 609.05,555.51 610,554.59 610.94,553.67 611.89,552.76 612.84,551.84 613.78,550.93 614.73,550.02 615.68,549.11 616.63,548.2 617.57,547.3 618.52,546.4 619.47,545.51 620.42,544.62 621.37,543.74 622.31,542.87 623.26,542 624.21,541.13 625.15,540.28 626.1,539.43 627.05,538.59 628,537.76 628.95,536.94 629.89,536.13 630.84,535.33 631.79,534.54 632.74,533.76 633.68,532.99 634.63,532.23 635.58,531.49 636.52,530.76 637.47,530.04 638.42,529.33 639.37,528.64 640.31,527.97 641.26,527.31 642.21,526.66 643.16,526.03 644.1,525.42 645.05,524.82 646,524.24" fill="none" stroke="#000000" stroke-width="3" stroke-dasharray="6.8 1.7 1.9 1.7" stroke-linecap="butt" stroke-linejoin="miter"/>
<polyline points="77.5,347.1 86.97,348.02 96.45,348.94 105.92,349.85 115.4,350.77 124.88,351.68 134.35,352.58 143.82,353.49 153.3,354.39 162.77,355.29 172.25,356.18 181.72,357.08 191.2,357.97 200.68,358.85 210.15,359.74 219.62,360.62 229.1,361.5 238.57,362.38 248.05,363.25 257.52,364.12 267,364.99 276.48,365.86 285.95,366.72 295.42,367.58 304.9,368.44 314.38,369.29 323.85,370.14 333.32,370.99 342.8,371.84 352.27,372.68 361.75,373.52 371.22,374.36 380.7,375.2 390.18,376.03 399.65,376.86 409.12,377.69 418.6,378.51 428.07,379.33 437.55,380.15 447.02,380.97 456.5,381.78 465.97,382.59 475.45,383.4 484.93,384.2 494.4,385.01 503.88,385.8 513.35,386.6 522.83,387.4 532.3,388.19 541.77,388.98 551.25,389.76 560.72,390.54 570.2,391.32 579.67,392.1 589.15,392.88 598.62,393.65 608.1,394.42 617.57,395.18 627.05,395.95 636.52,396.71 646,397.47" fill="none" stroke="#e1261c" stroke-width="3.3" stroke-dasharray="9.6 8.75" stroke-linecap="butt" stroke-linejoin="miter" stroke-dashoffset="-0.5"/>
<polyline points="77.5,524.9 86.97,525.6 96.45,526.3 105.92,526.99 115.4,527.68 124.88,528.37 134.35,529.05 143.82,529.73 153.3,530.41 162.77,531.08 172.25,531.75 181.72,532.42 191.2,533.08 200.68,533.74 210.15,534.4 219.62,535.05 229.1,535.7 238.57,536.35 248.05,536.99 257.52,537.63 267,538.27 276.48,538.9 285.95,539.53 295.42,540.16 304.9,540.78 314.38,541.4 323.85,542.02 333.32,542.63 342.8,543.24 352.27,543.85 361.75,544.45 371.22,545.05 380.7,545.64 390.18,546.24 399.65,546.83 409.12,547.41 418.6,547.99 428.07,548.57 437.55,549.15 447.02,549.72 456.5,550.29 465.97,550.86 475.45,551.42 484.93,551.98 494.4,552.54 503.88,553.09 513.35,553.64 522.83,554.18 532.3,554.73 541.77,555.26 551.25,555.8 560.72,556.33 570.2,556.86 579.67,557.39 589.15,557.91 598.62,558.43 608.1,558.94 617.57,559.46 627.05,559.97 636.52,560.47 646,560.97" fill="none" stroke="#a23f9b" stroke-width="3" stroke-linecap="butt" stroke-linejoin="miter"/>
<circle cx="80.5" cy="525.13" r="4" fill="#a23f9b"/>
<circle cx="120" cy="528.02" r="4" fill="#a23f9b"/>
<circle cx="161" cy="530.96" r="4" fill="#a23f9b"/>
<circle cx="196" cy="533.42" r="4" fill="#a23f9b"/>
<circle cx="234" cy="536.04" r="4" fill="#a23f9b"/>
<circle cx="271.5" cy="538.57" r="4" fill="#a23f9b"/>
<circle cx="310" cy="541.11" r="4" fill="#a23f9b"/>
<circle cx="347" cy="543.51" r="4" fill="#a23f9b"/>
<circle cx="384.5" cy="545.88" r="4" fill="#a23f9b"/>
<circle cx="423" cy="548.26" r="4" fill="#a23f9b"/>
<circle cx="460.5" cy="550.53" r="4" fill="#a23f9b"/>
<circle cx="498.5" cy="552.77" r="4" fill="#a23f9b"/>
<circle cx="536.5" cy="554.96" r="4" fill="#a23f9b"/>
<circle cx="574" cy="557.07" r="4" fill="#a23f9b"/>
<circle cx="612" cy="559.16" r="4" fill="#a23f9b"/>
<line x1="77.5" y1="634.5" x2="646" y2="634.5" stroke="#3a53a4" stroke-width="3.3"/>
<line x1="82.4" y1="630.3" x2="82.4" y2="638.7" stroke="#3a53a4" stroke-width="2.8"/>
<line x1="120.3" y1="630.3" x2="120.3" y2="638.7" stroke="#3a53a4" stroke-width="2.8"/>
<line x1="158.2" y1="630.3" x2="158.2" y2="638.7" stroke="#3a53a4" stroke-width="2.8"/>
<line x1="196.1" y1="630.3" x2="196.1" y2="638.7" stroke="#3a53a4" stroke-width="2.8"/>
<line x1="234" y1="630.3" x2="234" y2="638.7" stroke="#3a53a4" stroke-width="2.8"/>
<line x1="271.9" y1="630.3" x2="271.9" y2="638.7" stroke="#3a53a4" stroke-width="2.8"/>
<line x1="309.8" y1="630.3" x2="309.8" y2="638.7" stroke="#3a53a4" stroke-width="2.8"/>
<line x1="347.7" y1="630.3" x2="347.7" y2="638.7" stroke="#3a53a4" stroke-width="2.8"/>
<line x1="385.6" y1="630.3" x2="385.6" y2="638.7" stroke="#3a53a4" stroke-width="2.8"/>
<line x1="423.5" y1="630.3" x2="423.5" y2="638.7" stroke="#3a53a4" stroke-width="2.8"/>
<line x1="461.4" y1="630.3" x2="461.4" y2="638.7" stroke="#3a53a4" stroke-width="2.8"/>
<line x1="499.3" y1="630.3" x2="499.3" y2="638.7" stroke="#3a53a4" stroke-width="2.8"/>
<line x1="537.2" y1="630.3" x2="537.2" y2="638.7" stroke="#3a53a4" stroke-width="2.8"/>
<line x1="575.1" y1="630.3" x2="575.1" y2="638.7" stroke="#3a53a4" stroke-width="2.8"/>
<line x1="613" y1="630.3" x2="613" y2="638.7" stroke="#3a53a4" stroke-width="2.8"/>
<line x1="642.75" y1="630.3" x2="642.75" y2="638.7" stroke="#3a53a4" stroke-width="2.8"/>
<text x="71.2" y="356.9" font-size="24" text-anchor="end">3</text>
<text x="71.2" y="449.4" font-size="24" text-anchor="end">2</text>
<text x="70" y="543.7" font-size="24" text-anchor="end">1</text>
<text x="72.1" y="639.8" font-size="24" text-anchor="end">0</text>
<text x="79" y="662.9" font-size="24" text-anchor="middle">0</text>
<text x="267" y="662.9" font-size="24" text-anchor="middle">5</text>
<text x="456.5" y="662.9" font-size="24" text-anchor="middle">10</text>
<text x="644.7" y="662.9" font-size="24" text-anchor="middle">15</text>
<text x="366" y="680.3" font-size="24.5" text-anchor="middle" font-style="italic">t</text>
<text x="32.8" y="497" font-size="24.5" text-anchor="middle" font-style="italic">β</text>
<text x="9.3" y="353.7" font-size="28" text-anchor="start" font-weight="bold">b</text>
<rect x="136.2" y="378" width="172.3" height="102.8" fill="#ffffff" stroke="#808080" stroke-width="1"/>
<line x1="193.63" y1="480.8" x2="193.63" y2="477.8" stroke="#808080" stroke-width="1"/>
<line x1="193.63" y1="378" x2="193.63" y2="381" stroke="#808080" stroke-width="1"/>
<line x1="251.07" y1="480.8" x2="251.07" y2="477.8" stroke="#808080" stroke-width="1"/>
<line x1="251.07" y1="378" x2="251.07" y2="381" stroke="#808080" stroke-width="1"/>
<line x1="136.2" y1="461.78" x2="139.2" y2="461.78" stroke="#808080" stroke-width="1"/>
<line x1="308.5" y1="461.78" x2="305.5" y2="461.78" stroke="#808080" stroke-width="1"/>
<line x1="136.2" y1="440.77" x2="139.2" y2="440.77" stroke="#808080" stroke-width="1"/>
<line x1="308.5" y1="440.77" x2="305.5" y2="440.77" stroke="#808080" stroke-width="1"/>
<line x1="136.2" y1="433.52" x2="139.2" y2="433.52" stroke="#808080" stroke-width="1"/>
<line x1="308.5" y1="433.52" x2="305.5" y2="433.52" stroke="#808080" stroke-width="1"/>
<line x1="136.2" y1="412.83" x2="139.2" y2="412.83" stroke="#808080" stroke-width="1"/>
<line x1="308.5" y1="412.83" x2="305.5" y2="412.83" stroke="#808080" stroke-width="1"/>
<line x1="136.2" y1="396.52" x2="139.2" y2="396.52" stroke="#808080" stroke-width="1"/>
<line x1="308.5" y1="396.52" x2="305.5" y2="396.52" stroke="#808080" stroke-width="1"/>
<polyline points="136.2,478.1 136.77,477.28 137.35,476.47 137.92,475.65 138.5,474.84 139.07,474.03 139.65,473.22 140.22,472.42 140.79,471.62 141.37,470.82 141.94,470.03 142.52,469.24 143.09,468.46 143.67,467.68 144.24,466.91 144.81,466.15 145.39,465.39 145.96,464.64 146.54,463.91 147.11,463.18 147.69,462.45 148.26,461.74 148.84,461.04 149.41,460.35 149.98,459.67 150.56,459.01 151.13,458.35 151.71,457.71 152.28,457.08 152.86,456.46 153.43,455.86 154,455.27 154.58,454.69 155.15,454.13 155.73,453.58 156.3,453.05 156.88,452.54 157.45,452.04 158.02,451.56 158.6,451.09 159.17,450.64 159.75,450.21 160.32,449.79 160.9,449.4 161.47,449.02 162.04,448.66 162.62,448.31 163.19,447.99 163.77,447.68 164.34,447.4 164.92,447.13 165.49,446.88 166.07,446.66 166.64,446.45 167.21,446.26 167.79,446.09 168.36,445.94 168.94,445.81 169.51,445.7 170.09,445.62 170.66,445.55 171.23,445.5 171.81,445.47 172.38,445.47 172.96,445.48 173.53,445.51 174.11,445.57 174.68,445.64 175.25,445.74 175.83,445.85 176.4,445.99 176.98,446.14 177.55,446.32 178.13,446.52 178.7,446.73 179.27,446.97 179.85,447.22 180.42,447.49 181,447.78 181.57,448.1 182.15,448.43 182.72,448.78 183.3,449.14 183.87,449.53 184.44,449.93 185.02,450.35 185.59,450.79 186.17,451.24 186.74,451.72 187.32,452.2 187.89,452.71 188.46,453.23 189.04,453.77 189.61,454.32 190.19,454.88 190.76,455.46 191.34,456.06 191.91,456.67 192.48,457.29 193.06,457.92 193.63,458.57 194.21,459.23 194.78,459.9 195.36,460.58 195.93,461.28 196.5,461.98 197.08,462.7 197.65,463.42 198.23,464.15 198.8,464.9 199.38,465.65 199.95,466.4 200.53,467.17 201.1,467.94 201.67,468.72 202.25,469.5 202.82,470.29 203.4,471.09 203.97,471.89 204.55,472.69 205.12,473.49 205.69,474.3 206.27,475.12 206.84,475.93 207.42,476.74 207.99,477.56 208.57,477.83 209.14,477.01 209.71,476.2 210.29,475.38 210.86,474.57 211.44,473.76 212.01,472.95 212.59,472.15 213.16,471.35 213.74,470.55 214.31,469.76 214.88,468.97 215.46,468.19 216.03,467.42 216.61,466.65 217.18,465.89 217.76,465.14 218.33,464.4 218.9,463.66 219.48,462.93 220.05,462.21 220.63,461.51 221.2,460.81 221.78,460.12 222.35,459.45 222.92,458.78 223.5,458.13 224.07,457.49 224.65,456.87 225.22,456.26 225.8,455.66 226.37,455.07 226.94,454.5 227.52,453.94 228.09,453.4 228.67,452.88 229.24,452.37 229.82,451.87 230.39,451.4 230.97,450.94 231.54,450.49 232.11,450.07 232.69,449.66 233.26,449.27 233.84,448.89 234.41,448.54 234.99,448.2 235.56,447.88 236.13,447.59 236.71,447.31 237.28,447.05 237.86,446.81 238.43,446.58 239.01,446.38 239.58,446.2 240.15,446.04 240.73,445.9 241.3,445.77 241.88,445.67 242.45,445.59 243.03,445.53 243.6,445.49 244.17,445.47 244.75,445.47 245.32,445.49 245.9,445.53 246.47,445.59 247.05,445.67 247.62,445.78 248.19,445.9 248.77,446.04 249.34,446.2 249.92,446.38 250.49,446.59 251.07,446.81 251.64,447.05 252.22,447.31 252.79,447.59 253.36,447.89 253.94,448.21 254.51,448.54 255.09,448.9 255.66,449.27 256.24,449.66 256.81,450.07 257.38,450.5 257.96,450.94 258.53,451.4 259.11,451.88 259.68,452.37 260.26,452.88 260.83,453.41 261.4,453.95 261.98,454.5 262.55,455.08 263.13,455.66 263.7,456.26 264.28,456.87 264.85,457.5 265.43,458.14 266,458.79 266.57,459.45 267.15,460.13 267.72,460.82 268.3,461.51 268.87,462.22 269.45,462.94 270.02,463.67 270.59,464.4 271.17,465.15 271.74,465.9 272.32,466.66 272.89,467.43 273.47,468.2 274.04,468.98 274.61,469.77 275.19,470.56 275.76,471.36 276.34,472.16 276.91,472.96 277.49,473.77 278.06,474.58 278.63,475.39 279.21,476.2 279.78,477.02 280.36,477.83 280.93,477.55 281.51,476.74 282.08,475.92 282.65,475.11 283.23,474.3 283.8,473.49 284.38,472.68 284.95,471.88 285.53,471.08 286.1,470.29 286.68,469.5 287.25,468.71 287.82,467.93 288.4,467.16 288.97,466.4 289.55,465.64 290.12,464.89 290.7,464.15 291.27,463.41 291.84,462.69 292.42,461.98 292.99,461.27 293.57,460.58 294.14,459.89 294.72,459.22 295.29,458.56 295.86,457.92 296.44,457.28 297.01,456.66 297.59,456.05 298.16,455.46 298.74,454.88 299.31,454.31 299.88,453.76 300.46,453.22 301.03,452.7 301.61,452.2 302.18,451.71 302.76,451.24 303.33,450.79 303.91,450.35 304.48,449.93 305.05,449.52 305.63,449.14 306.2,448.77 306.78,448.42 307.35,448.09 307.93,447.78 308.5,447.49" fill="none" stroke="#1b7a45" stroke-width="1.4" stroke-dasharray="1.2 1.2" stroke-linecap="butt" stroke-linejoin="miter"/>
<line x1="136.2" y1="380.2" x2="308.5" y2="380.2" stroke="#e1261c" stroke-width="1.6" stroke-dasharray="4.5 3"/>
<line x1="136.2" y1="440.77" x2="308.5" y2="440.77" stroke="#a23f9b" stroke-width="1.8"/>
<circle cx="146.54" cy="440.77" r="1.9" fill="#a23f9b"/>
<circle cx="158.02" cy="440.77" r="1.9" fill="#a23f9b"/>
<circle cx="169.51" cy="440.77" r="1.9" fill="#a23f9b"/>
<circle cx="181" cy="440.77" r="1.9" fill="#a23f9b"/>
<circle cx="192.48" cy="440.77" r="1.9" fill="#a23f9b"/>
<circle cx="203.97" cy="440.77" r="1.9" fill="#a23f9b"/>
<circle cx="215.46" cy="440.77" r="1.9" fill="#a23f9b"/>
<circle cx="226.94" cy="440.77" r="1.9" fill="#a23f9b"/>
<circle cx="238.43" cy="440.77" r="1.9" fill="#a23f9b"/>
<circle cx="249.92" cy="440.77" r="1.9" fill="#a23f9b"/>
<circle cx="261.4" cy="440.77" r="1.9" fill="#a23f9b"/>
<circle cx="272.89" cy="440.77" r="1.9" fill="#a23f9b"/>
<circle cx="284.38" cy="440.77" r="1.9" fill="#a23f9b"/>
<circle cx="295.86" cy="440.77" r="1.9" fill="#a23f9b"/>
<circle cx="307.35" cy="440.77" r="1.9" fill="#a23f9b"/>
<line x1="136.2" y1="478.1" x2="308.5" y2="478.1" stroke="#3a53a4" stroke-width="2.2"/>
<line x1="146.54" y1="475.6" x2="146.54" y2="480.6" stroke="#3a53a4" stroke-width="1.4"/>
<line x1="158.02" y1="475.6" x2="158.02" y2="480.6" stroke="#3a53a4" stroke-width="1.4"/>
<line x1="169.51" y1="475.6" x2="169.51" y2="480.6" stroke="#3a53a4" stroke-width="1.4"/>
<line x1="181" y1="475.6" x2="181" y2="480.6" stroke="#3a53a4" stroke-width="1.4"/>
<line x1="192.48" y1="475.6" x2="192.48" y2="480.6" stroke="#3a53a4" stroke-width="1.4"/>
<line x1="203.97" y1="475.6" x2="203.97" y2="480.6" stroke="#3a53a4" stroke-width="1.4"/>
<line x1="215.46" y1="475.6" x2="215.46" y2="480.6" stroke="#3a53a4" stroke-width="1.4"/>
<line x1="226.94" y1="475.6" x2="226.94" y2="480.6" stroke="#3a53a4" stroke-width="1.4"/>
<line x1="238.43" y1="475.6" x2="238.43" y2="480.6" stroke="#3a53a4" stroke-width="1.4"/>
<line x1="249.92" y1="475.6" x2="249.92" y2="480.6" stroke="#3a53a4" stroke-width="1.4"/>
<line x1="261.4" y1="475.6" x2="261.4" y2="480.6" stroke="#3a53a4" stroke-width="1.4"/>
<line x1="272.89" y1="475.6" x2="272.89" y2="480.6" stroke="#3a53a4" stroke-width="1.4"/>
<line x1="284.38" y1="475.6" x2="284.38" y2="480.6" stroke="#3a53a4" stroke-width="1.4"/>
<line x1="295.86" y1="475.6" x2="295.86" y2="480.6" stroke="#3a53a4" stroke-width="1.4"/>
<line x1="307.35" y1="475.6" x2="307.35" y2="480.6" stroke="#3a53a4" stroke-width="1.4"/>
<polyline points="136.2,478.1 136.77,476.99 137.35,475.87 137.92,474.76 138.5,473.65 139.07,472.54 139.65,471.44 140.22,470.34 140.79,469.24 141.37,468.15 141.94,467.07 142.52,466 143.09,464.93 143.67,463.87 144.24,462.81 144.81,461.77 145.39,460.74 145.96,459.72 146.54,458.71 147.11,457.71 147.69,456.73 148.26,455.76 148.84,454.8 149.41,453.86 149.98,452.93 150.56,452.02 151.13,451.12 151.71,450.24 152.28,449.38 152.86,448.54 153.43,447.71 154,446.91 154.58,446.12 155.15,445.36 155.73,444.61 156.3,443.89 156.88,443.18 157.45,442.5 158.02,441.84 158.6,441.2 159.17,440.59 159.75,440 160.32,439.43 160.9,438.89 161.47,438.37 162.04,437.88 162.62,437.41 163.19,436.97 163.77,436.55 164.34,436.16 164.92,435.8 165.49,435.46 166.07,435.15 166.64,434.86 167.21,434.61 167.79,434.37 168.36,434.17 168.94,434 169.51,433.85 170.09,433.73 170.66,433.63 171.23,433.57 171.81,433.53 172.38,433.52 172.96,433.54 173.53,433.59 174.11,433.66 174.68,433.76 175.25,433.89 175.83,434.05 176.4,434.24 176.98,434.45 177.55,434.69 178.13,434.96 178.7,435.25 179.27,435.57 179.85,435.92 180.42,436.29 181,436.69 181.57,437.12 182.15,437.57 182.72,438.04 183.3,438.54 183.87,439.07 184.44,439.62 185.02,440.2 185.59,440.79 186.17,441.42 186.74,442.06 187.32,442.73 187.89,443.42 188.46,444.13 189.04,444.86 189.61,445.61 190.19,446.38 190.76,447.18 191.34,447.99 191.91,448.82 192.48,449.67 193.06,450.54 193.63,451.42 194.21,452.32 194.78,453.24 195.36,454.17 195.93,455.12 196.5,456.08 197.08,457.06 197.65,458.05 198.23,459.05 198.8,460.06 199.38,461.09 199.95,462.12 200.53,463.17 201.1,464.22 201.67,465.29 202.25,466.36 202.82,467.43 203.4,468.52 203.97,469.61 204.55,470.71 205.12,471.81 205.69,472.91 206.27,474.02 206.84,475.13 207.42,476.25 207.99,477.36 208.57,477.73 209.14,476.61 209.71,475.5 210.29,474.39 210.86,473.28 211.44,472.17 212.01,471.07 212.59,469.97 213.16,468.88 213.74,467.79 214.31,466.71 214.88,465.63 215.46,464.57 216.03,463.51 216.61,462.46 217.18,461.42 217.76,460.4 218.33,459.38 218.9,458.37 219.48,457.38 220.05,456.4 220.63,455.43 221.2,454.48 221.78,453.54 222.35,452.62 222.92,451.72 223.5,450.83 224.07,449.95 224.65,449.1 225.22,448.26 225.8,447.44 226.37,446.64 226.94,445.86 227.52,445.1 228.09,444.36 228.67,443.65 229.24,442.95 229.82,442.28 230.39,441.62 230.97,440.99 231.54,440.39 232.11,439.81 232.69,439.25 233.26,438.71 233.84,438.2 234.41,437.72 234.99,437.26 235.56,436.83 236.13,436.42 236.71,436.04 237.28,435.68 237.86,435.35 238.43,435.05 239.01,434.77 239.58,434.52 240.15,434.3 240.73,434.11 241.3,433.94 241.88,433.8 242.45,433.69 243.03,433.61 243.6,433.55 244.17,433.53 244.75,433.53 245.32,433.55 245.9,433.61 246.47,433.69 247.05,433.81 247.62,433.94 248.19,434.11 248.77,434.31 249.34,434.53 249.92,434.78 250.49,435.05 251.07,435.35 251.64,435.68 252.22,436.04 252.79,436.42 253.36,436.83 253.94,437.26 254.51,437.72 255.09,438.21 255.66,438.72 256.24,439.25 256.81,439.81 257.38,440.39 257.96,441 258.53,441.63 259.11,442.28 259.68,442.96 260.26,443.65 260.83,444.37 261.4,445.11 261.98,445.87 262.55,446.65 263.13,447.45 263.7,448.27 264.28,449.1 264.85,449.96 265.43,450.83 266,451.72 266.57,452.63 267.15,453.55 267.72,454.49 268.3,455.44 268.87,456.41 269.45,457.39 270.02,458.38 270.59,459.39 271.17,460.41 271.74,461.43 272.32,462.47 272.89,463.52 273.47,464.58 274.04,465.64 274.61,466.72 275.19,467.8 275.76,468.89 276.34,469.98 276.91,471.08 277.49,472.18 278.06,473.29 278.63,474.4 279.21,475.51 279.78,476.62 280.36,477.74 280.93,477.35 281.51,476.24 282.08,475.12 282.65,474.01 283.23,472.9 283.8,471.8 284.38,470.7 284.95,469.6 285.53,468.51 286.1,467.43 286.68,466.35 287.25,465.28 287.82,464.21 288.4,463.16 288.97,462.11 289.55,461.08 290.12,460.05 290.7,459.04 291.27,458.04 291.84,457.05 292.42,456.07 292.99,455.11 293.57,454.16 294.14,453.23 294.72,452.31 295.29,451.41 295.86,450.53 296.44,449.66 297.01,448.81 297.59,447.98 298.16,447.17 298.74,446.38 299.31,445.6 299.88,444.85 300.46,444.12 301.03,443.41 301.61,442.72 302.18,442.05 302.76,441.41 303.33,440.79 303.91,440.19 304.48,439.62 305.05,439.07 305.63,438.54 306.2,438.04 306.78,437.56 307.35,437.11 307.93,436.69 308.5,436.29" fill="none" stroke="#000000" stroke-width="1.6" stroke-dasharray="3.5 1 1 1" stroke-linecap="butt" stroke-linejoin="miter"/>
<text transform="translate(135.4 382.8) scale(1.06 1)" font-size="19.5" text-anchor="end">3</text>
<text transform="translate(135.4 399.6) scale(1.06 1)" font-size="19.5" text-anchor="end">2.5</text>
<text transform="translate(135.4 415.8) scale(1.06 1)" font-size="19.5" text-anchor="end">2</text>
<text transform="translate(135.4 431.6) scale(1.06 1)" font-size="19.5" text-anchor="end">1.366</text>
<text transform="translate(133.8 449.2) scale(1.06 1)" font-size="19.5" text-anchor="end">1.144</text>
<text transform="translate(133.8 466.6) scale(1.06 1)" font-size="19.5" text-anchor="end">0.5</text>
<text transform="translate(133.8 482.6) scale(1.06 1)" font-size="19.5" text-anchor="end">0</text>
<text transform="translate(136.5 498.6) scale(1.06 1)" font-size="19.5" text-anchor="middle">0</text>
<text transform="translate(193.93 498.6) scale(1.06 1)" font-size="19.5" text-anchor="middle">5</text>
<text transform="translate(251.37 498.6) scale(1.06 1)" font-size="19.5" text-anchor="middle">10</text>
<text transform="translate(308.8 498.6) scale(1.06 1)" font-size="19.5" text-anchor="middle">15</text>
</g>
<g id="panel-c">
<rect x="77.3" y="700" width="568.2" height="285.7" fill="none" stroke="#808080" stroke-width="1"/>
<line x1="77.3" y1="931.24" x2="82.3" y2="931.24" stroke="#808080" stroke-width="1"/>
<line x1="645.5" y1="931.24" x2="640.5" y2="931.24" stroke="#808080" stroke-width="1"/>
<line x1="77.3" y1="876.78" x2="82.3" y2="876.78" stroke="#808080" stroke-width="1"/>
<line x1="645.5" y1="876.78" x2="640.5" y2="876.78" stroke="#808080" stroke-width="1"/>
<line x1="77.3" y1="822.32" x2="82.3" y2="822.32" stroke="#808080" stroke-width="1"/>
<line x1="645.5" y1="822.32" x2="640.5" y2="822.32" stroke="#808080" stroke-width="1"/>
<line x1="77.3" y1="767.86" x2="82.3" y2="767.86" stroke="#808080" stroke-width="1"/>
<line x1="645.5" y1="767.86" x2="640.5" y2="767.86" stroke="#808080" stroke-width="1"/>
<line x1="77.3" y1="713.4" x2="82.3" y2="713.4" stroke="#808080" stroke-width="1"/>
<line x1="645.5" y1="713.4" x2="640.5" y2="713.4" stroke="#808080" stroke-width="1"/>
<line x1="266.7" y1="985.7" x2="266.7" y2="980.7" stroke="#808080" stroke-width="1"/>
<line x1="449.7" y1="985.7" x2="449.7" y2="980.7" stroke="#808080" stroke-width="1"/>
<line x1="638.5" y1="985.7" x2="638.5" y2="980.7" stroke="#808080" stroke-width="1"/>
<line x1="265.6" y1="700" x2="265.6" y2="705" stroke="#808080" stroke-width="1"/>
<line x1="455.5" y1="700" x2="455.5" y2="705" stroke="#808080" stroke-width="1"/>
<line x1="77.3" y1="849.55" x2="645.5" y2="849.55" stroke="#1b7a45" stroke-width="2.6" stroke-dasharray="2.2 2.2"/>
<line x1="77.3" y1="917.5" x2="87.4" y2="917.5" stroke="#e1261c" stroke-width="3"/>
<line x1="96.6" y1="917.5" x2="97.6" y2="917.5" stroke="#e1261c" stroke-width="2.4"/>
<line x1="281" y1="917.5" x2="645.5" y2="917.5" stroke="#e1261c" stroke-width="3" stroke-dasharray="9.6 9.1"/>
<line x1="77.3" y1="858.4" x2="645.5" y2="858.4" stroke="#a23f9b" stroke-width="3"/>
<circle cx="102.5" cy="858.4" r="3.4" fill="#a23f9b"/>
<circle cx="133.5" cy="858.4" r="3.4" fill="#a23f9b"/>
<circle cx="165" cy="858.4" r="3.4" fill="#a23f9b"/>
<circle cx="196" cy="858.4" r="3.4" fill="#a23f9b"/>
<circle cx="226.5" cy="858.4" r="3.4" fill="#a23f9b"/>
<circle cx="257.5" cy="858.4" r="3.4" fill="#a23f9b"/>
<circle cx="288.5" cy="858.4" r="3.4" fill="#a23f9b"/>
<circle cx="320" cy="858.4" r="3.4" fill="#a23f9b"/>
<circle cx="349" cy="858.4" r="3.4" fill="#a23f9b"/>
<circle cx="380.5" cy="858.4" r="3.4" fill="#a23f9b"/>
<circle cx="410.5" cy="858.4" r="3.4" fill="#a23f9b"/>
<circle cx="442" cy="858.4" r="3.4" fill="#a23f9b"/>
<circle cx="473" cy="858.4" r="3.4" fill="#a23f9b"/>
<circle cx="503" cy="858.4" r="3.4" fill="#a23f9b"/>
<circle cx="534" cy="858.4" r="3.4" fill="#a23f9b"/>
<circle cx="564.5" cy="858.4" r="3.4" fill="#a23f9b"/>
<circle cx="593" cy="858.4" r="3.4" fill="#a23f9b"/>
<circle cx="624" cy="858.4" r="3.4" fill="#a23f9b"/>
<line x1="77.3" y1="781.48" x2="645.5" y2="781.48" stroke="#000000" stroke-width="2.6" stroke-dasharray="6.5 1.8 1.8 1.8"/>
<clipPath id="clipc"><rect x="77.3" y="700" width="568.2" height="285.7"/></clipPath>
<polyline points="77.3,917.62 78.25,917.61 79.2,917.53 80.15,917.38 81.1,917.17 82.05,916.89 82.99,916.56 83.94,916.15 84.89,915.69 85.84,915.16 86.79,914.57 87.74,913.92 88.69,913.21 89.64,912.44 90.59,911.6 91.54,910.71 92.49,909.76 93.44,908.75 94.38,907.68 95.33,906.55 96.28,905.37 97.23,904.14 98.18,902.85 99.13,901.5 100.08,900.11 101.03,898.66 101.98,897.16 102.93,895.61 103.88,894.02 104.82,892.37 105.77,890.68 106.72,888.95 107.67,887.17 108.62,885.34 109.57,883.48 110.52,881.58 111.47,879.63 112.42,877.65 113.37,875.63 114.32,873.58 115.26,871.49 116.21,869.37 117.16,867.22 118.11,865.05 119.06,862.84 120.01,860.6 120.96,858.34 121.91,856.06 122.86,853.75 123.81,851.43 124.76,849.08 125.71,846.72 126.65,844.34 127.6,841.95 128.55,839.54 129.5,837.12 130.45,834.69 131.4,832.26 132.35,829.82 133.3,827.37 134.25,824.92 135.2,822.46 136.15,820.01 137.09,817.56 138.04,815.11 138.99,812.66 139.94,810.22 140.89,807.79 141.84,805.37 142.79,802.95 143.74,800.55 144.69,798.17 145.64,795.8 146.59,793.44 147.53,791.11 148.48,788.79 149.43,786.5 150.38,784.23 151.33,781.98 152.28,779.76 153.23,777.57 154.18,775.4 155.13,773.26 156.08,771.16 157.03,769.09 157.98,767.05 158.92,765.05 159.87,763.08 160.82,761.15 161.77,759.26 162.72,757.41 163.67,755.61 164.62,753.84 165.57,752.12 166.52,750.44 167.47,748.81 168.42,747.23 169.36,745.69 170.31,744.21 171.26,742.77 172.21,741.38 173.16,740.04 174.11,738.76 175.06,737.53 176.01,736.36 176.96,735.23 177.91,734.17 178.86,733.16 179.8,732.2 180.75,731.31 181.7,730.47 182.65,729.69 183.6,728.97 184.55,728.31 185.5,727.71 186.45,727.16 187.4,726.68 188.35,726.26 189.3,725.9 190.25,725.6 191.19,725.36 192.14,725.19 193.09,725.07 194.04,725.02 194.99,725.03 195.94,725.1 196.89,725.23 197.84,725.42 198.79,725.68 199.74,725.99 200.69,726.37 201.63,726.81 202.58,727.3 203.53,727.86 204.48,728.48 205.43,729.15 206.38,729.89 207.33,730.68 208.28,731.54 209.23,732.44 210.18,733.41 211.13,734.43 212.07,735.51 213.02,736.64 213.97,737.83 214.92,739.06 215.87,740.36 216.82,741.7 217.77,743.09 218.72,744.54 219.67,746.03 220.62,747.57 221.57,749.16 222.52,750.79 223.46,752.47 224.41,754.19 225.36,755.96 226.31,757.76 227.26,759.61 228.21,761.5 229.16,763.42 230.11,765.39 231.06,767.38 232.01,769.42 232.96,771.48 233.9,773.58 234.85,775.71 235.8,777.86 236.75,780.05 237.7,782.26 238.65,784.5 239.6,786.76 240.55,789.04 241.5,791.34 242.45,793.66 243.4,796.01 244.34,798.36 245.29,800.74 246.24,803.12 247.19,805.52 248.14,807.93 249.09,810.34 250.04,812.77 250.99,815.2 251.94,817.64 252.89,820.07 253.84,822.51 254.79,824.95 255.73,827.39 256.68,829.83 257.63,832.26 258.58,834.68 259.53,837.1 260.48,839.51 261.43,841.91 262.38,844.29 263.33,846.67 264.28,849.02 265.23,851.36 266.17,853.69 267.12,855.99 268.07,858.27 269.02,860.53 269.97,862.77 270.92,864.99 271.87,867.17 272.82,869.33 273.77,871.46 274.72,873.56 275.67,875.63 276.61,877.67 277.56,879.67 278.51,881.64 279.46,883.57 280.41,885.46 281.36,887.32 282.31,889.13 283.26,890.91 284.21,892.64 285.16,894.33 286.11,895.98 287.06,897.58 288,899.14 288.95,900.65 289.9,902.11 290.85,903.52 291.8,904.88 292.75,906.2 293.7,907.46 294.65,908.67 295.6,909.83 296.55,910.94 297.5,911.99 298.44,912.99 299.39,913.94 300.34,914.83 301.29,915.66 302.24,916.44 303.19,917.16 304.14,917.82 305.09,918.43 306.04,918.98 306.99,919.47 307.94,919.9 308.89,920.28 309.83,920.6 310.78,920.86 311.73,921.06 312.68,921.2 313.63,921.28 314.58,921.31 315.53,921.27 316.48,921.18 317.43,921.03 318.38,920.82 319.33,920.55 320.27,920.23 321.22,919.84 322.17,919.41 323.12,918.91 324.07,918.36 325.02,917.75 325.97,917.09 326.92,916.37 327.87,915.6 328.82,914.77 329.77,913.89 330.71,912.96 331.66,911.97 332.61,910.94 333.56,909.85 334.51,908.72 335.46,907.53 336.41,906.3 337.36,905.02 338.31,903.7 339.26,902.33 340.21,900.91 341.16,899.45 342.1,897.95 343.05,896.41 344,894.82 344.95,893.2 345.9,891.54 346.85,889.84 347.8,888.1 348.75,886.33 349.7,884.53 350.65,882.7 351.6,880.83 352.54,878.93 353.49,877.01 354.44,875.05 355.39,873.07 356.34,871.07 357.29,869.04 358.24,866.99 359.19,864.92 360.14,862.83 361.09,860.72 362.04,858.6 362.98,856.46 363.93,854.3 364.88,852.13 365.83,849.96 366.78,847.77 367.73,845.57 368.68,843.37 369.63,841.16 370.58,838.95 371.53,836.73 372.48,834.52 373.43,832.3 374.37,830.09 375.32,827.88 376.27,825.67 377.22,823.47 378.17,821.28 379.12,819.1 380.07,816.92 381.02,814.76 381.97,812.61 382.92,810.48 383.87,808.36 384.81,806.26 385.76,804.18 386.71,802.12 387.66,800.08 388.61,798.06 389.56,796.07 390.51,794.1 391.46,792.15 392.41,790.24 393.36,788.35 394.31,786.5 395.25,784.67 396.2,782.88 397.15,781.12 398.1,779.4 399.05,777.71 400,776.06 400.95,774.44 401.9,772.87 402.85,771.33 403.8,769.84 404.75,768.39 405.7,766.98 406.64,765.61 407.59,764.29 408.54,763.01 409.49,761.78 410.44,760.6 411.39,759.47 412.34,758.38 413.29,757.34 414.24,756.35 415.19,755.42 416.14,754.53 417.08,753.69 418.03,752.91 418.98,752.18 419.93,751.5 420.88,750.88 421.83,750.31 422.78,749.79 423.73,749.33 424.68,748.92 425.63,748.57 426.58,748.27 427.52,748.02 428.47,747.84 429.42,747.71 430.37,747.63 431.32,747.61 432.27,747.64 433.22,747.74 434.17,747.88 435.12,748.08 436.07,748.34 437.02,748.65 437.97,749.02 438.91,749.44 439.86,749.92 440.81,750.45 441.76,751.03 442.71,751.67 443.66,752.36 444.61,753.1 445.56,753.9 446.51,754.74 447.46,755.64 448.41,756.58 449.35,757.58 450.3,758.63 451.25,759.72 452.2,760.86 453.15,762.05 454.1,763.29 455.05,764.57 456,765.89 456.95,767.26 457.9,768.67 458.85,770.13 459.79,771.62 460.74,773.16 461.69,774.73 462.64,776.34 463.59,777.99 464.54,779.68 465.49,781.4 466.44,783.15 467.39,784.94 468.34,786.75 469.29,788.6 470.24,790.48 471.18,792.39 472.13,794.32 473.08,796.28 474.03,798.26 474.98,800.27 475.93,802.3 476.88,804.35 477.83,806.42 478.78,808.51 479.73,810.61 480.68,812.73 481.62,814.87 482.57,817.01 483.52,819.17 484.47,821.34 485.42,823.52 486.37,825.7 487.32,827.89 488.27,830.09 489.22,832.29 490.17,834.49 491.12,836.69 492.06,838.9 493.01,841.09 493.96,843.29 494.91,845.48 495.86,847.67 496.81,849.85 497.76,852.01 498.71,854.17 499.66,856.32 500.61,858.46 501.56,860.58 502.51,862.68 503.45,864.77 504.4,866.84 505.35,868.89 506.3,870.92 507.25,872.93 508.2,874.92 509.15,876.88 510.1,878.82 511.05,880.73 512,882.61 512.95,884.47 513.89,886.29 514.84,888.09 515.79,889.85 516.74,891.58 517.69,893.27 518.64,894.93 519.59,896.55 520.54,898.14 521.49,899.69 522.44,901.19 523.39,902.66 524.33,904.09 525.28,905.48 526.23,906.82 527.18,908.12 528.13,909.38 529.08,910.59 530.03,911.76 530.98,912.88 531.93,913.96 532.88,914.99 533.83,915.97 534.78,916.9 535.72,917.78 536.67,918.62 537.62,919.4 538.57,920.13 539.52,920.82 540.47,921.45 541.42,922.03 542.37,922.56 543.32,923.04 544.27,923.46 545.22,923.84 546.16,924.16 547.11,924.43 548.06,924.64 549.01,924.81 549.96,924.92 550.91,924.97 551.86,924.98 552.81,924.93 553.76,924.83 554.71,924.68 555.66,924.48 556.61,924.22 557.55,923.92 558.5,923.56 559.45,923.15 560.4,922.69 561.35,922.18 562.3,921.62 563.25,921.01 564.2,920.35 565.15,919.64 566.1,918.88 567.05,918.08 567.99,917.23 568.94,916.34 569.89,915.39 570.84,914.41 571.79,913.38 572.74,912.3 573.69,911.18 574.64,910.03 575.59,908.83 576.54,907.58 577.49,906.3 578.43,904.99 579.38,903.63 580.33,902.24 581.28,900.81 582.23,899.34 583.18,897.85 584.13,896.32 585.08,894.75 586.03,893.16 586.98,891.54 587.93,889.89 588.88,888.21 589.82,886.5 590.77,884.77 591.72,883.02 592.67,881.24 593.62,879.44 594.57,877.62 595.52,875.78 596.47,873.93 597.42,872.05 598.37,870.17 599.32,868.26 600.26,866.34 601.21,864.42 602.16,862.48 603.11,860.53 604.06,858.57 605.01,856.61 605.96,854.64 606.91,852.67 607.86,850.69 608.81,848.71 609.76,846.73 610.7,844.76 611.65,842.78 612.6,840.81 613.55,838.84 614.5,836.88 615.45,834.93 616.4,832.99 617.35,831.05 618.3,829.13 619.25,827.22 620.2,825.32 621.15,823.44 622.09,821.57 623.04,819.72 623.99,817.89 624.94,816.08 625.89,814.29 626.84,812.52 627.79,810.77 628.74,809.05 629.69,807.36 630.64,805.69 631.59,804.04 632.53,802.43 633.48,800.85 634.43,799.29 635.38,797.77 636.33,796.28 637.28,794.82 638.23,793.4 639.18,792.01 640.13,790.66 641.08,789.35 642.03,788.07 642.97,786.83 643.92,785.64 644.87,784.48 645.82,783.36 646.77,782.29" fill="none" stroke="#000000" stroke-width="3.1" stroke-linecap="butt" stroke-linejoin="round" clip-path="url(#clipc)"/>
<text x="72.6" y="719.2" font-size="24" text-anchor="end">1</text>
<text x="73.4" y="773.66" font-size="24" text-anchor="end">0.8</text>
<text x="73.4" y="828.12" font-size="24" text-anchor="end">0.6</text>
<text x="73.4" y="882.58" font-size="24" text-anchor="end">0.4</text>
<text x="73.4" y="937.04" font-size="24" text-anchor="end">0.2</text>
<text x="72.2" y="991.1" font-size="24" text-anchor="end">0</text>
<text x="77.3" y="1009.6" font-size="24" text-anchor="middle">0</text>
<text x="265.87" y="1009.6" font-size="24" text-anchor="middle">5</text>
<text x="451.5" y="1009.6" font-size="24" text-anchor="middle">10</text>
<text x="643" y="1009.6" font-size="24" text-anchor="middle">15</text>
<text x="360.9" y="1031" font-size="24.5" text-anchor="middle" font-style="italic">t</text>
<text x="0" y="853.3" font-size="29.5" text-anchor="start" font-style="italic">F</text>
<text x="14.6" y="857.2" font-size="15.6" text-anchor="start">expt</text>
<text x="9.3" y="714.8" font-size="28" text-anchor="start" font-weight="bold">c</text>
<rect x="429.5" y="708.5" width="203.5" height="26.5" fill="#ffffff" stroke="#808080" stroke-width="1"/>
<line x1="435.5" y1="721.3" x2="457" y2="721.3" stroke="#000000" stroke-width="3.4"/>
<text x="463" y="726.8" font-size="16.75" text-anchor="start">Experimental process</text>
<rect x="130.9" y="884.3" width="145.6" height="72.7" fill="#ffffff" stroke="#808080" stroke-width="1"/>
<line x1="179.43" y1="957" x2="179.43" y2="954" stroke="#808080" stroke-width="1"/>
<line x1="179.43" y1="884.3" x2="179.43" y2="887.3" stroke="#808080" stroke-width="1"/>
<line x1="227.97" y1="957" x2="227.97" y2="954" stroke="#808080" stroke-width="1"/>
<line x1="227.97" y1="884.3" x2="227.97" y2="887.3" stroke="#808080" stroke-width="1"/>
<line x1="130.9" y1="920.8" x2="133.9" y2="920.8" stroke="#808080" stroke-width="1"/>
<line x1="276.5" y1="920.8" x2="273.5" y2="920.8" stroke="#808080" stroke-width="1"/>
<line x1="130.9" y1="920.8" x2="276.5" y2="920.8" stroke="#1b7a45" stroke-width="1.6" stroke-dasharray="1.3 1.3"/>
<line x1="130.9" y1="939.2" x2="276.5" y2="939.2" stroke="#e1261c" stroke-width="1.6" stroke-dasharray="5.5 5.5"/>
<line x1="130.9" y1="924.6" x2="276.5" y2="924.6" stroke="#a23f9b" stroke-width="1.7"/>
<circle cx="142.3" cy="924.6" r="1.6" fill="#b04fab"/>
<circle cx="157.4" cy="924.6" r="1.6" fill="#b04fab"/>
<circle cx="171.2" cy="924.6" r="1.6" fill="#b04fab"/>
<circle cx="185" cy="924.6" r="1.6" fill="#b04fab"/>
<circle cx="198.5" cy="924.6" r="1.6" fill="#b04fab"/>
<circle cx="211.9" cy="924.6" r="1.6" fill="#b04fab"/>
<circle cx="225.6" cy="924.6" r="1.6" fill="#b04fab"/>
<circle cx="239.9" cy="924.6" r="1.6" fill="#b04fab"/>
<circle cx="253" cy="924.6" r="1.6" fill="#b04fab"/>
<circle cx="266.8" cy="924.6" r="1.6" fill="#b04fab"/>
<line x1="130.9" y1="902.7" x2="276.5" y2="902.7" stroke="#000000" stroke-width="1.7" stroke-dasharray="3.5 1 1 1"/>
<polyline points="130.9,938.9 131.39,938.87 131.87,938.76 132.36,938.6 132.84,938.36 133.33,938.06 133.81,937.69 134.3,937.25 134.78,936.76 135.27,936.2 135.75,935.58 136.24,934.9 136.72,934.16 137.21,933.36 137.69,932.52 138.18,931.62 138.67,930.67 139.15,929.67 139.64,928.63 140.12,927.54 140.61,926.42 141.09,925.26 141.58,924.07 142.06,922.84 142.55,921.59 143.03,920.31 143.52,919.01 144,917.7 144.49,916.36 144.97,915.02 145.46,913.67 145.95,912.31 146.43,910.96 146.92,909.6 147.4,908.25 147.89,906.91 148.37,905.58 148.86,904.27 149.34,902.97 149.83,901.7 150.31,900.45 150.8,899.23 151.28,898.04 151.77,896.89 152.25,895.77 152.74,894.7 153.23,893.66 153.71,892.67 154.2,891.73 154.68,890.84 155.17,890 155.65,889.21 156.14,888.49 156.62,887.82 157.11,887.2 157.59,886.66 158.08,886.17 158.56,885.75 159.05,885.39 159.53,885.1 160.02,884.87 160.51,884.71 160.99,884.62 161.48,884.6 161.96,884.65 162.45,884.76 162.93,884.94 163.42,885.19 163.9,885.5 164.39,885.88 164.87,886.33 165.36,886.83 165.84,887.4 166.33,888.03 166.81,888.72 167.3,889.47 167.79,890.28 168.27,891.13 168.76,892.04 169.24,893 169.73,894 170.21,895.05 170.7,896.14 171.18,897.27 171.67,898.44 172.15,899.64 172.64,900.87 173.12,902.13 173.61,903.41 174.09,904.71 174.58,906.03 175.07,907.36 175.55,908.71 176.04,910.06 176.52,911.41 177.01,912.77 177.49,914.13 177.98,915.47 178.46,916.81 178.95,918.14 179.43,919.45 179.92,920.74 180.4,922.01 180.89,923.26 181.37,924.47 181.86,925.65 182.35,926.8 182.83,927.91 183.32,928.98 183.8,930.01 184.29,930.99 184.77,931.92 185.26,932.81 185.74,933.64 186.23,934.41 186.71,935.13 187.2,935.79 187.68,936.39 188.17,936.93 188.65,937.41 189.14,937.82 189.63,938.17 190.11,938.45 190.6,938.66 191.08,938.81 191.57,938.89 192.05,938.9 192.54,938.84 193.02,938.71 193.51,938.52 193.99,938.26 194.48,937.94 194.96,937.55 195.45,937.09 195.93,936.58 196.42,936 196.91,935.35 197.39,934.65 197.88,933.9 198.36,933.08 198.85,932.22 199.33,931.3 199.82,930.34 200.3,929.32 200.79,928.27 201.27,927.17 201.76,926.03 202.24,924.86 202.73,923.66 203.21,922.42 203.7,921.16 204.19,919.88 204.67,918.57 205.16,917.25 205.64,915.91 206.13,914.57 206.61,913.21 207.1,911.86 207.58,910.5 208.07,909.15 208.55,907.8 209.04,906.46 209.52,905.14 210.01,903.83 210.49,902.54 210.98,901.28 211.47,900.04 211.95,898.83 212.44,897.65 212.92,896.51 213.41,895.41 213.89,894.34 214.38,893.32 214.86,892.35 215.35,891.42 215.83,890.55 216.32,889.73 216.8,888.96 217.29,888.25 217.77,887.6 218.26,887.01 218.75,886.48 219.23,886.02 219.72,885.62 220.2,885.28 220.69,885.01 221.17,884.81 221.66,884.68 222.14,884.61 222.63,884.61 223.11,884.68 223.6,884.81 224.08,885.02 224.57,885.29 225.05,885.62 225.54,886.02 226.03,886.49 226.51,887.02 227,887.61 227.48,888.26 227.97,888.97 228.45,889.74 228.94,890.56 229.42,891.43 229.91,892.36 230.39,893.33 230.88,894.35 231.36,895.42 231.85,896.52 232.33,897.66 232.82,898.84 233.31,900.05 233.79,901.29 234.28,902.55 234.76,903.84 235.25,905.15 235.73,906.47 236.22,907.81 236.7,909.16 237.19,910.51 237.67,911.87 238.16,913.23 238.64,914.58 239.13,915.93 239.61,917.26 240.1,918.58 240.59,919.89 241.07,921.17 241.56,922.43 242.04,923.67 242.53,924.87 243.01,926.04 243.5,927.18 243.98,928.28 244.47,929.33 244.95,930.34 245.44,931.31 245.92,932.23 246.41,933.09 246.89,933.9 247.38,934.66 247.87,935.36 248.35,936 248.84,936.58 249.32,937.1 249.81,937.55 250.29,937.94 250.78,938.27 251.26,938.53 251.75,938.72 252.23,938.84 252.72,938.9 253.2,938.88 253.69,938.81 254.17,938.66 254.66,938.44 255.15,938.16 255.63,937.82 256.12,937.4 256.6,936.93 257.09,936.39 257.57,935.79 258.06,935.13 258.54,934.41 259.03,933.63 259.51,932.8 260,931.92 260.48,930.98 260.97,930 261.45,928.97 261.94,927.9 262.43,926.79 262.91,925.64 263.4,924.46 263.88,923.24 264.37,922 264.85,920.73 265.34,919.44 265.82,918.13 266.31,916.8 266.79,915.46 267.28,914.11 267.76,912.76 268.25,911.4 268.73,910.05 269.22,908.69 269.71,907.35 270.19,906.02 270.68,904.7 271.16,903.39 271.65,902.11 272.13,900.86 272.62,899.63 273.1,898.43 273.59,897.26 274.07,896.13 274.56,895.04 275.04,893.99 275.53,892.99 276.01,892.03 276.5,891.12" fill="none" stroke="#000000" stroke-width="1.8" stroke-linecap="butt" stroke-linejoin="round"/>
<text transform="translate(128.6 892.8) scale(1.12 1)" font-size="17.5" text-anchor="end">1</text>
<text transform="translate(129.6 927.5) scale(1.12 1)" font-size="17.5" text-anchor="end">0.5</text>
<text transform="translate(129.6 957.7) scale(1.12 1)" font-size="17.5" text-anchor="end">0</text>
<text transform="translate(130.9 974.1) scale(1.12 1)" font-size="17.5" text-anchor="middle">0</text>
<text transform="translate(179.43 974.1) scale(1.12 1)" font-size="17.5" text-anchor="middle">5</text>
<text transform="translate(228.57 974.1) scale(1.12 1)" font-size="17.5" text-anchor="middle">10</text>
<text transform="translate(277.1 974.1) scale(1.12 1)" font-size="17.5" text-anchor="middle">15</text>
</g>
</svg></body></html>
